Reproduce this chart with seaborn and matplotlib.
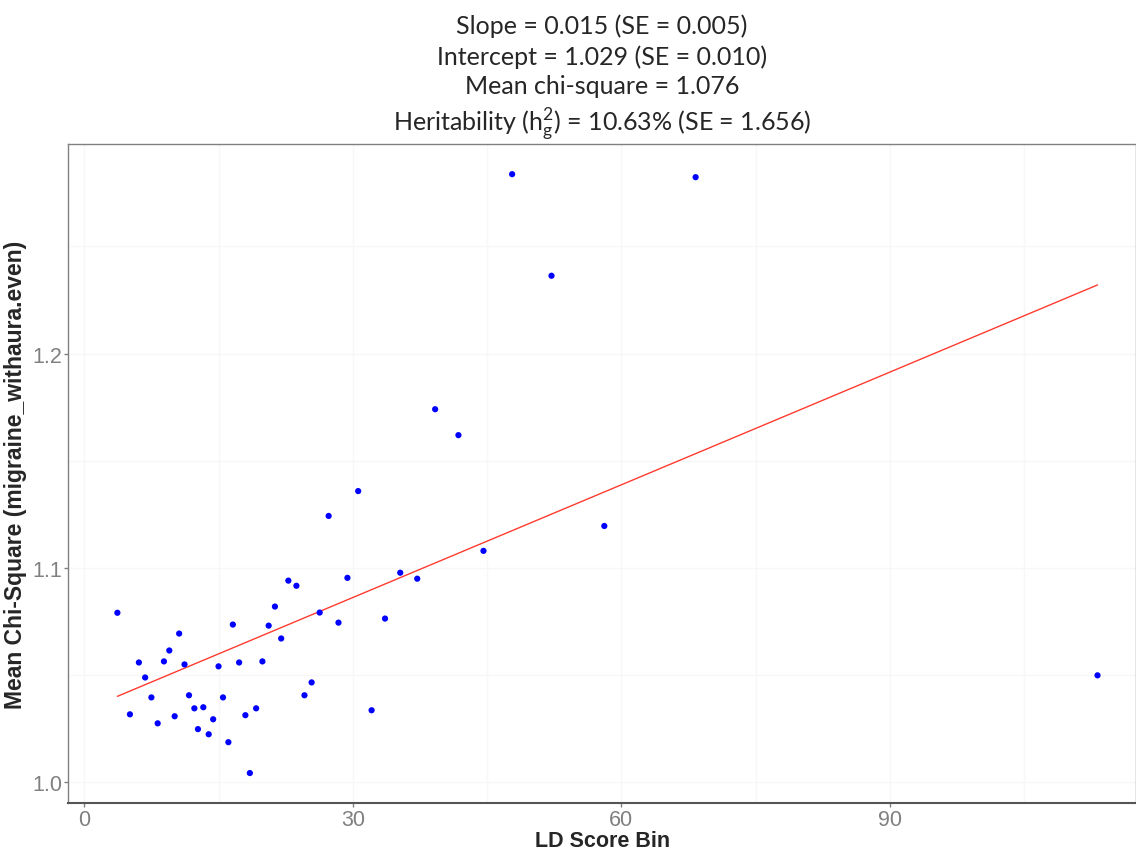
import seaborn as sns
import matplotlib.pyplot as plt
import pandas as pd

# LD score bins (x) and mean chi-square per bin (y)
ld_score = [3.7, 5.1, 6.1, 6.8, 7.5, 8.2, 8.9, 9.5, 10.1, 10.6,
            11.2, 11.7, 12.3, 12.7, 13.3, 13.9, 14.4, 15.0, 15.5, 16.1,
            16.6, 17.3, 18.0, 18.5, 19.2, 19.9, 20.6, 21.3, 22.0, 22.8,
            23.7, 24.6, 25.4, 26.3, 27.3, 28.4, 29.4, 30.6, 32.1, 33.6,
            35.3, 37.2, 39.2, 41.8, 44.6, 47.8, 52.2, 58.1, 68.3, 113.2]
mean_chisq = [1.079, 1.0316, 1.0558, 1.0488, 1.0395, 1.0274, 1.0563, 1.0614, 1.0307, 1.0693,
              1.0549, 1.0405, 1.0344, 1.0247, 1.0349, 1.0223, 1.0293, 1.0540, 1.0395, 1.0186,
              1.0735, 1.0558, 1.0312, 1.0042, 1.0344, 1.0563, 1.0730, 1.0819, 1.0670, 1.0940,
              1.0916, 1.0405, 1.0465, 1.0791, 1.1242, 1.0744, 1.0953, 1.1358, 1.0335, 1.0763,
              1.0977, 1.0949, 1.1740, 1.1619, 1.1079, 1.2837, 1.2363, 1.1195, 1.2823, 1.0498]

# fitted line end points
fit_x = [3.7, 113.2]
fit_y = [1.040, 1.232]

title_lines = ["Slope = 0.015 (SE = 0.005)",
               "Intercept = 1.029 (SE = 0.010)",
               "Mean chi-square = 1.076",
               r"Heritability (h$^2_g$) = 10.63% (SE = 1.656)"]

df = pd.DataFrame({"x": ld_score, "y": mean_chisq})
fit = pd.DataFrame({"x": fit_x, "y": fit_y})

sns.set_style("white")
plt.rcParams["font.family"] = ["Liberation Sans", "DejaVu Sans"]
plt.rcParams["mathtext.default"] = "regular"

fig = plt.figure(figsize=(11.36, 8.54), dpi=100)
ax = fig.add_axes([0.06, 0.058, 0.94, 0.772])

# faint ggplot-like grid
for v in [0, 15, 30, 45, 60, 75, 90, 105]:
    ax.axvline(v, color="#f7f7f7", lw=1, zorder=0)
for v in [1.0, 1.05, 1.1, 1.15, 1.2, 1.25]:
    ax.axhline(v, color="#f7f7f7", lw=1, zorder=0)

sns.lineplot(data=fit, x="x", y="y", color="#ff3b30", lw=1, ax=ax, zorder=2)
sns.scatterplot(data=df, x="x", y="y", color="#0000ff", s=20, edgecolor="none", ax=ax, zorder=3)

ax.set_xlim(-1.8, 117.5)
ax.set_ylim(0.990, 1.2977)
ax.set_xticks([0, 30, 60, 90])
ax.set_yticks([1.0, 1.1, 1.2])
ax.set_yticklabels(["1.0", "1.1", "1.2"])
ax.tick_params(axis="both", labelsize=15.5, labelcolor="#808080", color="#808080",
               length=3, width=1, direction="out", left=True, bottom=True, pad=1)

for side in ["left", "top", "right"]:
    ax.spines[side].set_color("#808080")
    ax.spines[side].set_linewidth(1)
ax.spines["bottom"].set_color("#555555")
ax.spines["bottom"].set_linewidth(1.5)

ax.set_xlabel("LD Score Bin", fontsize=15.5, fontweight="bold", labelpad=0)
ax.set_ylabel("Mean Chi-Square (migraine_withaura.even)", fontsize=16.5,
              fontweight="bold", labelpad=4)

ax.set_title("\n".join(title_lines), fontsize=18, family=["Lato", "DejaVu Sans"],
             linespacing=1.35, pad=10)

fig.savefig("out.png", dpi=100)
